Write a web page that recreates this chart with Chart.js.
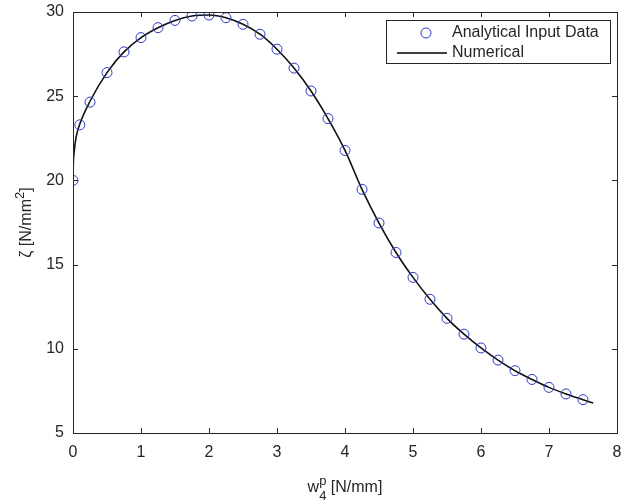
<!DOCTYPE html>
<html>
<head>
<meta charset="utf-8">
<script src="https://cdn.jsdelivr.net/npm/chart.js@4.4.1/dist/chart.umd.min.js"></script>
<style>
  html, body { margin: 0; padding: 0; background: #fff; }
  #wrap { width: 624px; height: 503px; }
</style>
</head>
<body>
<div id="wrap"><canvas id="chart"></canvas></div>
<script>
/* 데이터: 그림에서 읽은 값 */
const markerX = [0, 0.1, 0.25, 0.5, 0.75, 1, 1.25, 1.5, 1.75, 2, 2.25, 2.5, 2.75, 3, 3.25, 3.5, 3.75, 4,
                 4.25, 4.5, 4.75, 5, 5.25, 5.5, 5.75, 6, 6.25, 6.5, 6.75, 7, 7.25, 7.5];
const markerY = [20.0, 23.3, 24.65, 26.4, 27.63, 28.48, 29.07, 29.5, 29.76, 29.82, 29.66, 29.27, 28.68, 27.79,
                 26.67, 25.31, 23.67, 21.78, 19.47, 17.47, 15.72, 14.24, 12.94, 11.81, 10.87, 10.05, 9.33,
                 8.7, 8.18, 7.71, 7.32, 6.98];

const lineX = [0, 0.005, 0.02, 0.045, 0.1, 0.25, 0.5, 0.75, 1, 1.25, 1.5, 1.75, 2, 2.25, 2.5, 2.75, 3, 3.25,
               3.5, 3.75, 4, 4.25, 4.5, 4.75, 5, 5.25, 5.5, 5.75, 6, 6.25, 6.5, 6.75, 7, 7.25, 7.5, 7.65];
const lineY = [20.0, 21.0, 21.8, 22.55, 23.35, 24.7, 26.4, 27.63, 28.48, 29.07, 29.5, 29.76, 29.82, 29.66,
               29.27, 28.68, 27.79, 26.67, 25.31, 23.67, 21.78, 19.47, 17.47, 15.72, 14.24, 12.94, 11.81,
               10.87, 10.05, 9.33, 8.7, 8.18, 7.71, 7.32, 6.98, 6.78];

const xTicks = [0, 1, 2, 3, 4, 5, 6, 7, 8];
const yTicks = [5, 10, 15, 20, 25, 30];
const seriesLabels = ['Analytical Input Data', 'Numerical'];

const FONT = '"Liberation Sans", Arial, sans-serif';
const MARKER_COLOR = '#2b3bc4';

// 안쪽으로 향하는 눈금 + 축 제목 + 범례 (MATLAB 스타일)
const matlabDecor = {
    id: 'matlabDecor',
    afterDraw(chart) {
        const ctx = chart.ctx;
        const a = chart.chartArea;
        const xs = chart.scales.x, ys = chart.scales.y;
        ctx.save();
        ctx.strokeStyle = '#262626';
        ctx.lineWidth = 1;
        ctx.beginPath();
        xTicks.forEach(v => {
            const px = Math.round(xs.getPixelForValue(v)) + 0.5;
            ctx.moveTo(px, a.bottom); ctx.lineTo(px, a.bottom - 5);
            ctx.moveTo(px, a.top); ctx.lineTo(px, a.top + 5);
        });
        yTicks.forEach(v => {
            const py = Math.round(ys.getPixelForValue(v)) + 0.5;
            ctx.moveTo(a.left, py); ctx.lineTo(a.left + 5, py);
            ctx.moveTo(a.right, py); ctx.lineTo(a.right - 5, py);
        });
        ctx.stroke();
        // 테두리
        ctx.strokeRect(Math.round(a.left) + 0.5, Math.round(a.top) + 0.5,
                       Math.round(a.right - a.left), Math.round(a.bottom - a.top));

        ctx.fillStyle = '#262626';
        ctx.textBaseline = 'alphabetic';

        // x축 제목: w_4^p [N/mm]
        ctx.font = '16px ' + FONT;
        const cx = (a.left + a.right) / 2;
        const wW = ctx.measureText('w').width;
        ctx.font = '13px ' + FONT;
        const subW = ctx.measureText('4').width;
        ctx.font = '16px ' + FONT;
        const restW = ctx.measureText(' [N/mm]').width;
        let x0 = cx - (wW + subW + restW) / 2;
        const base = 492;
        ctx.textAlign = 'left';
        ctx.fillText('w', x0, base);
        ctx.font = '13px ' + FONT;
        ctx.fillText('p', x0 + wW, base - 7);
        ctx.fillText('4', x0 + wW, base + 8);
        ctx.font = '16px ' + FONT;
        ctx.fillText(' [N/mm]', x0 + wW + subW, base);

        // y축 제목: ζ [N/mm^2]
        ctx.save();
        ctx.translate(31, (a.top + a.bottom) / 2);
        ctx.rotate(-Math.PI / 2);
        ctx.font = '16px ' + FONT;
        const t1 = 'ζ [N/mm';
        const t1W = ctx.measureText(t1).width;
        ctx.font = '13px ' + FONT;
        const supW = ctx.measureText('2').width;
        ctx.font = '16px ' + FONT;
        const t2W = ctx.measureText(']').width;
        let y0 = -(t1W + supW + t2W) / 2;
        ctx.fillText(t1, y0, 0);
        ctx.font = '13px ' + FONT;
        ctx.fillText('2', y0 + t1W, -7);
        ctx.font = '16px ' + FONT;
        ctx.fillText(']', y0 + t1W + supW, 0);
        ctx.restore();

        // 범례 박스
        const lx = 386.5, ly = 20.5, lw = 224, lh = 43;
        ctx.fillStyle = '#fff';
        ctx.fillRect(lx, ly, lw, lh);
        ctx.strokeStyle = '#262626';
        ctx.strokeRect(lx, ly, lw, lh);
        ctx.strokeStyle = MARKER_COLOR;
        ctx.beginPath();
        ctx.arc(426, 33, 5, 0, Math.PI * 2);
        ctx.stroke();
        ctx.strokeStyle = '#000';
        ctx.lineWidth = 1.5;
        ctx.beginPath();
        ctx.moveTo(397, 53); ctx.lineTo(447, 53);
        ctx.stroke();
        ctx.fillStyle = '#262626';
        ctx.font = '16px ' + FONT;
        ctx.textBaseline = 'middle';
        ctx.fillText(seriesLabels[0], 452, 33);
        ctx.fillText(seriesLabels[1], 452, 53);
        ctx.restore();
    }
};

new Chart(document.getElementById('chart'), {
    type: 'scatter',
    data: {
        datasets: [
            {
                label: seriesLabels[1],
                data: lineX.map((x, i) => ({ x: x, y: lineY[i] })),
                showLine: true,
                borderColor: '#111',
                borderWidth: 1.6,
                pointRadius: 0,
                cubicInterpolationMode: 'monotone',
                order: 2
            },
            {
                label: seriesLabels[0],
                data: markerX.map((x, i) => ({ x: x, y: markerY[i] })),
                showLine: false,
                pointStyle: 'circle',
                pointRadius: 5,
                pointBorderWidth: 1,
                borderColor: MARKER_COLOR,
                backgroundColor: 'rgba(0,0,0,0)',
                order: 1
            }
        ]
    },
    options: {
        responsive: true,
        maintainAspectRatio: false,
        animation: false,
        layout: { padding: { top: 12, right: 7, left: 0, bottom: 0 } },
        plugins: {
            legend: { display: false },
            tooltip: { enabled: false }
        },
        scales: {
            x: {
                type: 'linear',
                min: 0, max: 8,
                afterFit: s => { s.height = 70; s.paddingLeft = 0; s.paddingRight = 0; },
                afterBuildTicks: s => { s.ticks = xTicks.map(v => ({ value: v })); },
                grid: { display: false, drawTicks: false },
                border: { display: false },
                ticks: { color: '#262626', font: { family: FONT, size: 16 }, padding: 10, maxRotation: 0 }
            },
            y: {
                type: 'linear',
                min: 5, max: 30,
                afterFit: s => { s.width = 73; s.paddingTop = 0; s.paddingBottom = 0; },
                afterBuildTicks: s => { s.ticks = yTicks.map(v => ({ value: v })); },
                grid: { display: false, drawTicks: false },
                border: { display: false },
                ticks: { color: '#262626', font: { family: FONT, size: 16 }, padding: 9 }
            }
        }
    },
    plugins: [matlabDecor]
});
</script>
</body>
</html>
